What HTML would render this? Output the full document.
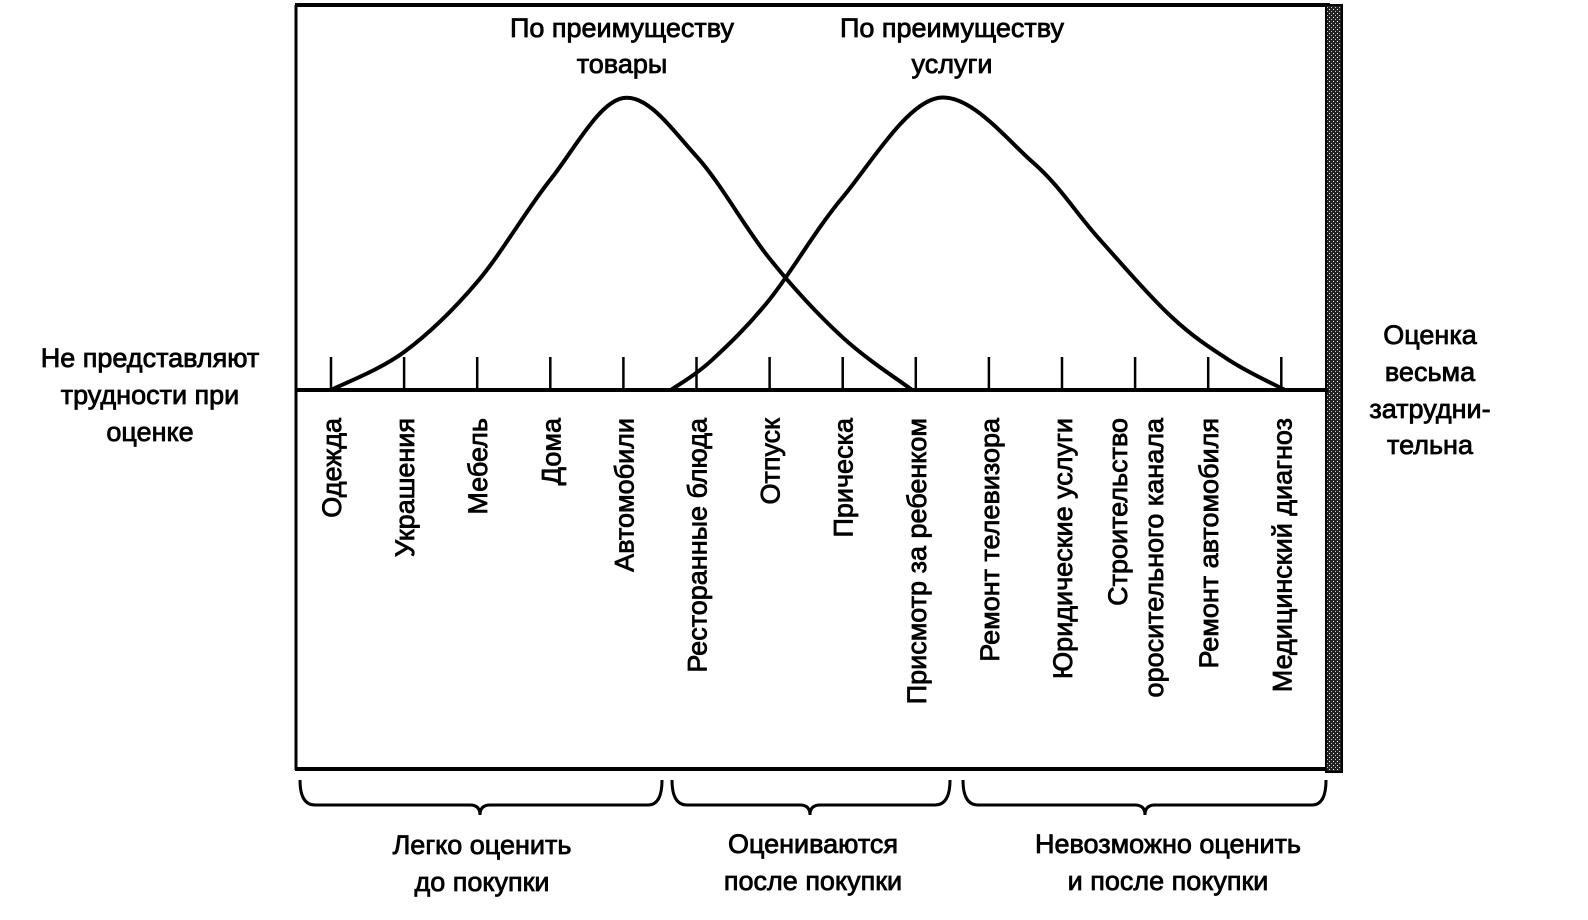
<!DOCTYPE html>
<html><head><meta charset="utf-8"><style>
html,body{margin:0;padding:0;background:#fff;}
svg{display:block;}
text{font-family:"Liberation Sans","DejaVu Sans",sans-serif;font-size:27px;fill:#000;stroke:#000;stroke-width:0.8;}
</style></head><body>
<svg id="chart" width="1588" height="920" viewBox="0 0 1588 920" xmlns="http://www.w3.org/2000/svg">
<rect x="0" y="0" width="1588" height="920" fill="#fff"/>
<defs><pattern id="hatch" width="4" height="4" patternUnits="userSpaceOnUse"><rect width="4" height="4" fill="#222"/><rect x="1" y="1" width="1" height="1" fill="#fff"/><rect x="3" y="3" width="1" height="1" fill="#ccc"/></pattern></defs>
<g>
<line x1="295" y1="5" x2="1330" y2="5" stroke="#000" stroke-width="4"/>
<line x1="296" y1="5" x2="296" y2="770" stroke="#000" stroke-width="3"/>
<line x1="295" y1="769" x2="1335" y2="769" stroke="#000" stroke-width="4"/>
<rect x="1326" y="5" width="16" height="767" fill="url(#hatch)" stroke="#000" stroke-width="2"/>
<line x1="296" y1="390" x2="1328" y2="390" stroke="#000" stroke-width="4"/>
</g>
<g id="ticks"></g>
<g id="curves"></g>
<g id="cats"></g>
<g>
<text text-anchor="middle" x="622" y="37">По преимуществу</text>
<text text-anchor="middle" x="622" y="73">товары</text>
<text text-anchor="middle" x="952" y="37">По преимуществу</text>
<text text-anchor="middle" x="952" y="73">услуги</text>
</g>
<g text-anchor="middle">
<text x="150" y="367">Не представляют</text>
<text x="150" y="404">трудности при</text>
<text x="150" y="441">оценке</text>
</g>
<g text-anchor="middle">
<text x="1430" y="344">Оценка</text>
<text x="1430" y="381">весьма</text>
<text x="1430" y="418">затрудни-</text>
<text x="1430" y="454">тельна</text>
</g>
<g fill="none" stroke="#000" stroke-width="3">
<path d="M300 780 Q300 805 315 805 L470 805 Q480 805 480 815 Q480 805 490 805 L648 805 Q662 805 662 780"/>
<path d="M672 780 Q672 805 687 805 L800 805 Q810 805 810 815 Q810 805 820 805 L935 805 Q950 805 950 780"/>
<path d="M963 780 Q963 805 978 805 L1135 805 Q1145 805 1145 815 Q1145 805 1155 805 L1312 805 Q1326 805 1326 780"/>
</g>
<g text-anchor="middle">
<text x="482" y="854">Легко оценить</text>
<text x="482" y="891">до покупки</text>
<text x="813" y="853">Оцениваются</text>
<text x="813" y="890">после покупки</text>
<text x="1168" y="853">Невозможно оценить</text>
<text x="1168" y="890">и после покупки</text>
</g>
</svg>
<script>
const categories = ["Одежда","Украшения","Мебель","Дома","Автомобили","Ресторанные блюда","Отпуск","Прическа","Присмотр за ребенком","Ремонт телевизора","Юридические услуги","Строительство|оросительного канала","Ремонт автомобиля","Медицинский диагноз"];
const goodsX = [0,1,2,3,4,5,6,7,7.95];
const goodsY = [0,13,37,72,100,80,45,18,0];
const servicesX = [4.65,5.2,6,7,8.3,9.6,10.5,11.5,12.3,13.05];
const servicesY = [0,10,31,66,100,78,52,25,10,0];

const NS="http://www.w3.org/2000/svg";
const x0=331, step=73.1, yBase=390, yTop=98;
function xs(i){return x0+i*step;}
function ys(v){return yBase-(v/100)*(yBase-yTop);}

const tg=document.getElementById('ticks');
categories.forEach((c,i)=>{
  const l=document.createElementNS(NS,'line');
  
  
  l.setAttribute('x1',xs(i));l.setAttribute('x2',xs(i));
  l.setAttribute('y1',357);l.setAttribute('y2',390);
  l.setAttribute('stroke','#000');l.setAttribute('stroke-width','2.5');
  tg.appendChild(l);
});

function smoothPath(X,Y){
  const p=X.map((x,i)=>[xs(x),ys(Y[i])]);
  let d='M'+p[0][0]+' '+p[0][1];
  for(let i=0;i<p.length-1;i++){
    const a=p[i-1]||p[i],b=p[i],c=p[i+1],e=p[i+2]||c;
    const c1=[b[0]+(c[0]-a[0])/6,b[1]+(c[1]-a[1])/6];
    const c2=[c[0]-(e[0]-b[0])/6,c[1]-(e[1]-b[1])/6];
    d+=' C'+c1[0]+' '+c1[1]+' '+c2[0]+' '+c2[1]+' '+c[0]+' '+c[1];
  }
  return d;
}
const cg=document.getElementById('curves');
[[goodsX,goodsY,'goods-curve'],[servicesX,servicesY,'services-curve']].forEach(s=>{
  const p=document.createElementNS(NS,'path');
  
  
  p.setAttribute('d',smoothPath(s[0],s[1]));
  p.setAttribute('fill','none');p.setAttribute('stroke','#000');p.setAttribute('stroke-width','4');
  cg.appendChild(p);
});

const tc=document.getElementById('cats');
categories.forEach((c,i)=>{
  const lines=c.split('|');
  lines.forEach((ln,j)=>{
    const t=document.createElementNS(NS,'text');
    
    
    const x=xs(i)+10+(lines.length>1?(j*36-18):0);
    t.setAttribute('x',0);t.setAttribute('y',0);
    t.setAttribute('text-anchor','end');
    t.setAttribute('transform','translate('+x+',418) rotate(-90)');
    t.textContent=ln;
    tc.appendChild(t);
  });
});
</script>
</body></html>
